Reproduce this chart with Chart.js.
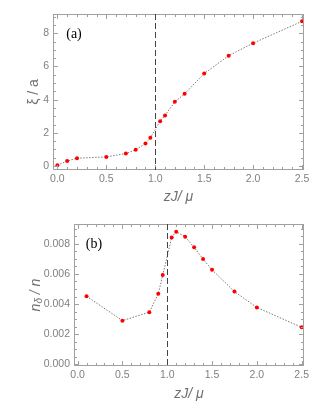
<!DOCTYPE html>
<html>
<head>
<meta charset="utf-8">
<script src="https://cdn.jsdelivr.net/npm/chart.js@4.4.1/dist/chart.umd.min.js"></script>
<style>
    body { margin: 0; background: #fff; }
    #wrap { position: relative; width: 332px; height: 417px; }
    canvas { position: absolute; left: 0; }
    #chart-a { top: 0; }
    #chart-b { top: 205px; }
</style>
</head>
<body>
<div id="wrap">
    <canvas id="chart-a" width="332" height="205"></canvas>
    <canvas id="chart-b" width="332" height="212"></canvas>
</div>
<script>
// (a) correlation length
let xiX = [0, 0.1, 0.2, 0.5, 0.7, 0.8, 0.9, 0.95, 1.05, 1.1, 1.2, 1.3, 1.5, 1.75, 2.0, 2.5];
let xiY = [0.05, 0.3, 0.47, 0.55, 0.75, 0.98, 1.35, 1.7, 2.7, 3.05, 3.87, 4.35, 5.57, 6.65, 7.4, 8.72];

// (b) n_delta / n
let ndX = [0.1, 0.5, 0.8, 0.9, 0.95, 1.05, 1.1, 1.2, 1.3, 1.4, 1.5, 1.75, 2.0, 2.5];
let ndY = [0.00452, 0.00290, 0.00346, 0.00468, 0.00592, 0.00842, 0.00880, 0.00847, 0.00776, 0.00698, 0.00627, 0.00483, 0.00377, 0.00246];

// tick labels
let xTicks = [0, 0.5, 1.0, 1.5, 2.0, 2.5];
let xiTicks = [0, 2, 4, 6, 8];
let ndTicks = [0, 0.002, 0.004, 0.006, 0.008];
let critical = 1.0;

const FRAME = '#a0a0a0';
const LABEL = '#808080';

function makeTicks(from, to, step) {
    let out = [];
    let n = Math.round((to - from) / step);
    for (let i = 0; i <= n; i++) out.push(from + i * step);
    return out;
}

function frameDeco(cfg) {
    return {
        id: 'frameDeco',
        afterDraw: function (chart) {
            let ctx = chart.ctx;
            let a = chart.chartArea;
            let xs = chart.scales.x;
            let ys = chart.scales.y;
            ctx.save();
            ctx.strokeStyle = FRAME;
            ctx.lineWidth = 1;
            ctx.strokeRect(Math.round(a.left) + 0.5, Math.round(a.top) + 0.5,
                Math.round(a.right - a.left) - 1, Math.round(a.bottom - a.top) - 1);

            // inward ticks on every side
            ctx.beginPath();
            makeTicks(0, 2.5, 0.1).forEach(function (v) {
                let px = Math.round(xs.getPixelForValue(v)) + 0.5;
                let len = Math.abs(v / 0.5 - Math.round(v / 0.5)) < 1e-6 ? 5 : 3;
                ctx.moveTo(px, a.bottom); ctx.lineTo(px, a.bottom - len);
                ctx.moveTo(px, a.top); ctx.lineTo(px, a.top + len);
            });
            makeTicks(0, cfg.yTop, cfg.yMinor).forEach(function (v) {
                let py = Math.round(ys.getPixelForValue(v)) + 0.5;
                let len = Math.abs(v / cfg.yMajor - Math.round(v / cfg.yMajor)) < 1e-6 ? 5 : 3;
                ctx.moveTo(a.left, py); ctx.lineTo(a.left + len, py);
                ctx.moveTo(a.right, py); ctx.lineTo(a.right - len, py);
            });
            ctx.stroke();

            // critical point line
            let cx = Math.round(xs.getPixelForValue(critical)) + 0.5;
            ctx.strokeStyle = '#444';
            ctx.setLineDash([6, 3]);
            ctx.beginPath();
            ctx.moveTo(cx, a.top);
            ctx.lineTo(cx, a.bottom);
            ctx.stroke();
            ctx.setLineDash([]);

            // panel label
            ctx.fillStyle = '#000';
            ctx.font = '14px "Liberation Serif"';
            ctx.textAlign = 'center';
            ctx.textBaseline = 'middle';
            ctx.fillText(cfg.panel, cfg.panelX, cfg.panelY);

            // x title
            ctx.fillStyle = '#707070';
            ctx.font = 'italic 14px "Liberation Sans"';
            ctx.fillText('zJ/ μ', (a.left + a.right) / 2, cfg.xTitleY);

            // y title (pieces, so the subscript works)
            ctx.translate(cfg.yTitleX, (a.top + a.bottom) / 2);
            ctx.rotate(-Math.PI / 2);
            let total = 0;
            cfg.yTitle.forEach(function (p) { ctx.font = p.font; total += ctx.measureText(p.t).width; });
            let x = -total / 2;
            ctx.textAlign = 'left';
            cfg.yTitle.forEach(function (p) {
                ctx.font = p.font;
                ctx.fillText(p.t, x, p.dy || 0);
                x += ctx.measureText(p.t).width;
            });
            ctx.restore();
        }
    };
}

function makeChart(id, xData, yData, opt) {
    let points = xData.map(function (x, i) { return {x: x, y: yData[i]}; });
    return new Chart(document.getElementById(id).getContext('2d'), {
        type: 'scatter',
        data: {
            datasets: [{
                data: points,
                showLine: true,
                borderColor: '#7a7a7a',
                borderWidth: 1,
                borderDash: [1.5, 1.5],
                pointRadius: 2,
                pointBackgroundColor: '#ff0000',
                pointBorderWidth: 0
            }]
        },
        options: {
            responsive: false,
            animation: false,
            devicePixelRatio: 1,
            layout: { padding: { left: 0, right: 28, top: opt.padTop, bottom: 0 } },
            plugins: { legend: { display: false }, tooltip: { enabled: false } },
            scales: {
                x: {
                    type: 'linear',
                    min: opt.xMin, max: opt.xMax,
                    grid: { display: false, drawTicks: false },
                    border: { display: false },
                    afterBuildTicks: function (s) { s.ticks = xTicks.map(function (v) { return {value: v}; }); },
                    afterFit: function (s) { s.height = opt.xAxisH; },
                    ticks: {
                        padding: 3,
                        color: LABEL,
                        font: { family: 'Liberation Sans', size: 10.5 },
                        callback: function (v) { return v.toFixed(1); }
                    }
                },
                y: {
                    type: 'linear',
                    min: opt.yMin, max: opt.yMax,
                    grid: { display: false, drawTicks: false },
                    border: { display: false },
                    afterBuildTicks: function (s) { s.ticks = opt.yTicks.map(function (v) { return {value: v}; }); },
                    afterFit: function (s) { s.width = opt.yAxisW; },
                    ticks: {
                        padding: 4,
                        color: LABEL,
                        font: { family: 'Liberation Sans', size: 10.5 },
                        callback: function (v) { return v.toFixed(opt.digits); }
                    }
                }
            }
        },
        plugins: [frameDeco(opt.deco)]
    });
}

makeChart('chart-a', xiX, xiY, {
    padTop: 14, xAxisH: 35, yAxisW: 53,
    xMin: -0.045, xMax: 2.52, yMin: -0.24, yMax: 9.16,
    yTicks: xiTicks, digits: 0,
    deco: {
        yTop: 9, yMinor: 0.5, yMajor: 2, panel: '(a)', panelX: 74, panelY: 34,
        xTitleY: 197, yTitleX: 34,
        yTitle: [{t: 'ξ / a', font: '14px "Liberation Sans"'}]
    }
});

makeChart('chart-b', ndX, ndY, {
    padTop: 19, xAxisH: 51, yAxisW: 74,
    xMin: -0.04, xMax: 2.526, yMin: -0.00011, yMax: 0.00931,
    yTicks: ndTicks, digits: 3,
    deco: {
        yTop: 0.009, yMinor: 0.0005, yMajor: 0.002, panel: '(b)', panelX: 94, panelY: 39,
        xTitleY: 189, yTitleX: 36,
        yTitle: [
            {t: 'n', font: 'italic 14px "Liberation Sans"'},
            {t: 'δ', font: 'italic 10px "Liberation Sans"', dy: 3},
            {t: ' / n', font: 'italic 14px "Liberation Sans"'}
        ]
    }
});
</script>
</body>
</html>
